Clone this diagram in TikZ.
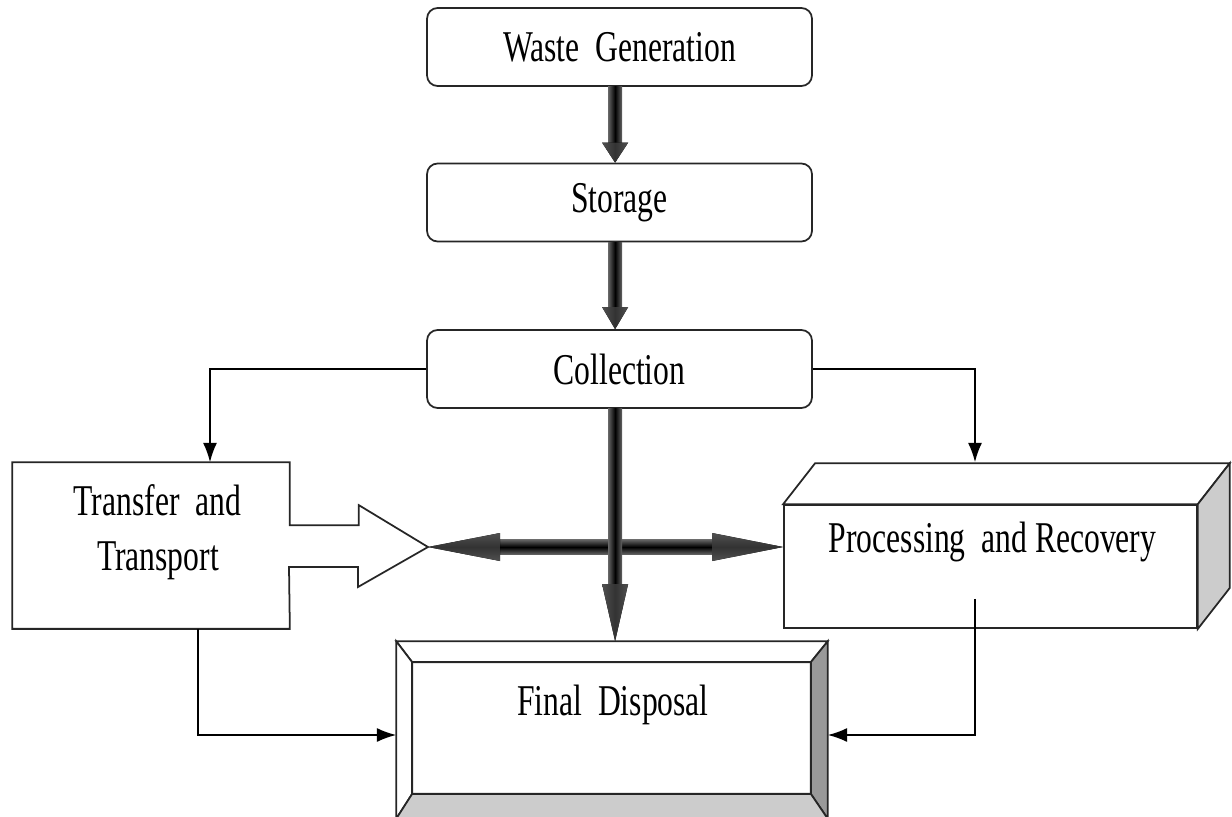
\documentclass[tikz,border=0pt]{standalone}
\usepackage{fontspec}
\setmainfont{Liberation Serif}
\usepackage{graphicx}
\usetikzlibrary{arrows.meta, calc}
\definecolor{headgray}{RGB}{80,80,80}
\newcommand{\squeeze}[1]{\scalebox{0.72}[1]{#1}}
% shaded fat arrow pointing down: start, tip, head length (px)
\newcommand{\fatdown}[3]{%
  \fill[left color=gray!80!black, right color=gray!80!black, middle color=black] ($(#1)+(-7,0)$) rectangle ($(#2)+(7,-#3)$);
  \fill[left color=headgray, right color=headgray, middle color=black!80] ($(#2)+(-13,-#3)$) -- ($(#2)+(13,-#3)$) -- (#2) -- cycle;}

\begin{document}
\begin{tikzpicture}[x=0.02cm, y=-0.02cm,
  stage/.style={draw=black!85, line width=1pt, rounded corners=6pt, fill=white,
    minimum width=7.7cm, minimum height=1.56cm, inner sep=0pt, font=\fontsize{25}{31}\selectfont},
  boxface/.style={draw=black!85, line width=1pt, fill=white, inner sep=0pt},
  lbl/.style={inner sep=0pt, anchor=base, font=\fontsize{25}{31}\selectfont},
  link/.style={draw=black, line width=0.9pt, -{Latex[length=11pt,width=8pt]}}]
  \useasboundingbox (0,0) rectangle (1232,816);

%stages:
  \node[stage] (gen) at (619.5,47) {\squeeze{Waste\ \ Generation}};
  \node[stage] (sto) at (619.5,202.5) {\squeeze{Storage}};
  \node[stage] (col) at (619.5,369) {\squeeze{Collection}};

%transfer box with callout:
  \node[boxface, draw=none, fill=none, minimum width=5.52cm, minimum height=3.3cm] (tr) at (151,545.5) {};
  \coordinate (trtip) at (428,547);
  \draw[line width=1pt, draw=black!85, fill=white] (tr.south east) -- (tr.south west) -- (tr.north west) -- (tr.north east)
    -- ++(0,63) -- ++(69,0) -- ++(0,-20) -- (trtip) -- ++(-70,40) -- ++(0,-20) -- ++(-69,0) -- cycle;
  \node[lbl] (trtxt1) at (157.5,515) {\squeeze{Transfer\ \ and}};
  \node[lbl] (trtxt2) at (158,570) {\squeeze{Transport}};

%processing box:
  \node[boxface, minimum width=8.26cm, minimum height=2.46cm] (proc) at (990.5,566.5) {};
  \draw[line width=1pt, draw=black!85, fill=white] (proc.north west) -- ++(32,-41) -- ($(proc.north east)+(32,-41)$) -- (proc.north east) -- cycle;
  \draw[line width=1pt, draw=black!85, fill=gray!40] (proc.north east) -- ++(32,-41) -- ($(proc.south east)+(32,-41)$) -- (proc.south east) -- cycle;
  \node[lbl] (proctxt) at (992.5,552) {\squeeze{Processing\ \ and Recovery}};

%final disposal frame:
  \node[boxface, draw=none, fill=none, minimum width=8.6cm, minimum height=3.52cm] (fin) at (612,730) {};
  \coordinate (fi-nw) at ($(fin.north west)+(16,21)$);
  \coordinate (fi-ne) at ($(fin.north east)+(-17,21)$);
  \coordinate (fi-se) at ($(fin.south east)+(-17,-25)$);
  \coordinate (fi-sw) at ($(fin.south west)+(16,-25)$);
  \begin{scope}[line width=1pt, draw=black!85]
    \filldraw[fill=white] (fin.north west) -- (fin.north east) -- (fi-ne) -- (fi-nw) -- cycle;
    \filldraw[fill=white] (fin.north west) -- (fi-nw) -- (fi-sw) -- (fin.south west) -- cycle;
    \filldraw[fill=gray!80] (fin.north east) -- (fi-ne) -- (fi-se) -- (fin.south east) -- cycle;
    \filldraw[fill=gray!40] (fin.south west) -- (fi-sw) -- (fi-se) -- (fin.south east) -- cycle;
    \draw (fi-nw) rectangle (fi-se);
  \end{scope}
  \node[lbl] (fintxt) at (613,715) {\squeeze{Final\ \ Disposal}};

%thin connectors:
  \draw[link] (col.west) -| ($(tr.north)+(59,0)$);
  \draw[link] (col.east) -| ($(proc.north)+(-15.5,-42)$);
  \draw[link] ($(tr.south)+(47,0)$) |- ($(fin.west)+(0,5)$);
  \draw[link] ($(proc.south)+(-15.5,-30)$) |- ($(fin.east)+(0,5)$);

%fat arrows:
  \coordinate (a1) at ([xshift=-2.5pt]gen.south);
  \coordinate (a2) at ([xshift=-2.5pt]sto.north);
  \coordinate (a3) at ([xshift=-2.5pt]sto.south);
  \coordinate (a4) at ([xshift=-2.5pt]col.north);
  \coordinate (a5) at ([xshift=-2.5pt]col.south);
  \coordinate (a6) at (a5 |- fin.north);
  \coordinate (pin) at (proc.west |- trtip);
  \fill[top color=gray!80!black, bottom color=gray!80!black, middle color=black] ($(trtip)+(70,-7.5)$) rectangle ($(pin)+(-69,7.5)$);
  \fill[top color=headgray, bottom color=headgray, middle color=black!80] (trtip) -- ($(trtip)+(72,-14)$) -- ($(trtip)+(72,14)$) -- cycle;
  \fill[top color=headgray, bottom color=headgray, middle color=black!80] (pin) -- ($(pin)+(-71,-14)$) -- ($(pin)+(-71,14)$) -- cycle;
  \fatdown{a1}{a2}{20}
  \fatdown{a3}{a4}{22}
  \fatdown{a5}{a6}{57}
\end{tikzpicture}
\end{document}
